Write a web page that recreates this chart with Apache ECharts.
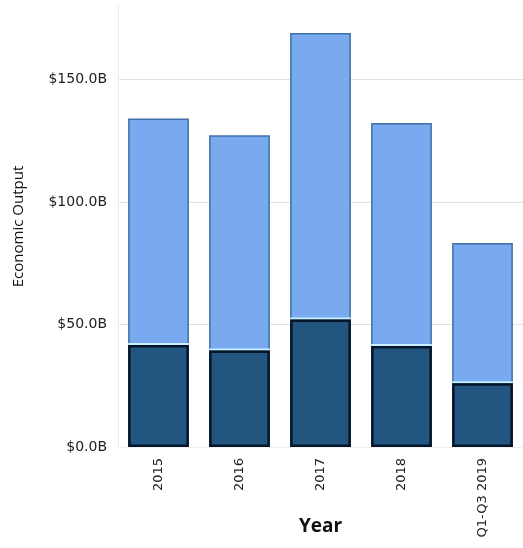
<!DOCTYPE html>
<html>
<head>
<meta charset="utf-8">
<script src="https://cdn.jsdelivr.net/npm/echarts@6/dist/echarts.min.js"></script>
<style>
  html, body { margin: 0; padding: 0; background: #fff; }
  #chart { width: 523px; height: 548px; }
</style>
</head>
<body>
<div id="chart"></div>
<script>
// Economic output by year, in billions of dollars
const years = ['2015', '2016', '2017', '2018', 'Q1-Q3 2019'];
const baseOutput = [41.6, 39.4, 52.0, 41.2, 26.0];
const totalOutput = [134.1, 127.2, 169.0, 132.2, 83.3];
const upperOutput = totalOutput.map((t, i) => +(t - baseOutput[i]).toFixed(1));
const yTicks = [0, 50, 100, 150];

const chart = echarts.init(document.getElementById('chart'));
chart.setOption({
  animation: false,
  grid: { left: 118, right: 0, top: 6, bottom: 101, containLabel: false, outerBoundsMode: 'none' },
  xAxis: {
    type: 'category',
    data: years,
    name: 'Year',
    nameLocation: 'middle',
    nameGap: 70,
    nameMoveOverlap: false,
    nameTextStyle: { fontFamily: 'Open Sans', fontSize: 19, fontWeight: 'bold', color: '#111' },
    axisLine: { show: true, lineStyle: { color: '#f0f0f0' } },
    axisTick: { show: false },
    axisLabel: { rotate: 90, fontFamily: 'DejaVu Sans', fontSize: 13, color: '#222', margin: 11 }
  },
  yAxis: {
    type: 'value',
    min: 0,
    max: 180,
    interval: 50,
    name: 'Economic Output',
    nameLocation: 'middle',
    nameGap: 92,
    nameMoveOverlap: false,
    nameTextStyle: { fontFamily: 'Open Sans', fontSize: 15, color: '#111' },
    axisLine: { show: true, lineStyle: { color: '#ececec' } },
    axisTick: { show: false },
    axisLabel: {
      showMaxLabel: false,
      fontFamily: 'DejaVu Sans', fontSize: 14, color: '#222', margin: 11,
      formatter: v => yTicks.includes(v) ? '$' + v.toFixed(1) + 'B' : ''
    },
    splitLine: { lineStyle: { color: ['#e2e2e2', '#e2e2e2', '#e2e2e2', '#e2e2e2', 'transparent'] } }
  },
  series: [
    {
      name: 'Base',
      type: 'bar',
      stack: 'output',
      z: 3,
      barCategoryGap: '25%',
      barGap: '-100%',
      data: baseOutput,
      itemStyle: {
        color: '#22557f',
        shadowColor: '#c9f0ff',
        shadowOffsetY: -2,
        shadowBlur: 0
      }
    },
    {
      name: 'Upper',
      type: 'bar',
      stack: 'output',
      z: 2,
      data: upperOutput,
      itemStyle: {
        color: '#79a9ee',
        borderColor: '#3f70a6',
        borderWidth: 1.5
      }
    },
    {
      // dark outline drawn over the base segment
      name: 'BaseOutline',
      type: 'bar',
      stack: 'outline',
      z: 4,
      silent: true,
      data: baseOutput,
      itemStyle: {
        color: 'transparent',
        borderColor: '#06162a',
        borderWidth: 2.5
      }
    }
  ]
});
</script>
</body>
</html>
